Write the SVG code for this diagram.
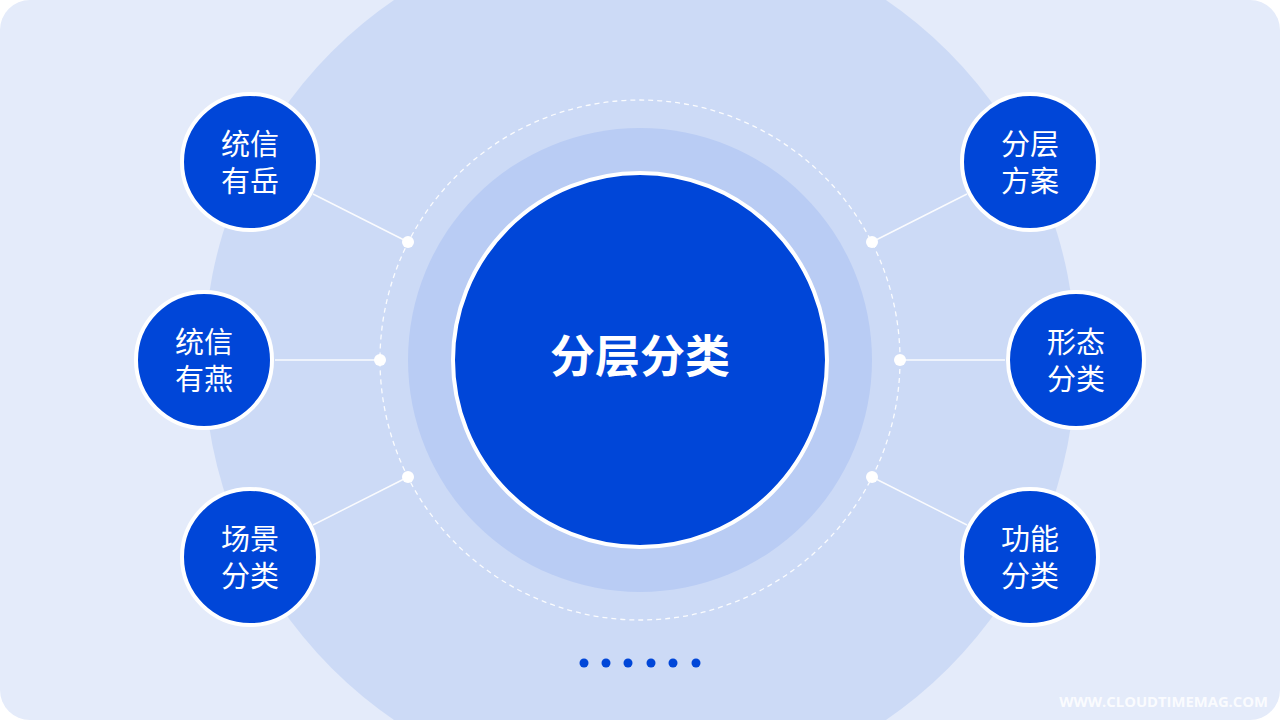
<svg xmlns="http://www.w3.org/2000/svg" width="1280" height="720" viewBox="0 0 1280 720">
<defs>
<style>
.node circle{fill:#0046D8;stroke:#FFFFFF;stroke-width:4}
.nt{font-family:"Liberation Sans","Noto Sans CJK SC",sans-serif;font-size:29px;fill:#FFFFFF;text-anchor:middle}
.link{stroke:#FFFFFF;stroke-width:1.5;opacity:0.9}
.dot{fill:#FFFFFF}
.pg{fill:#0046D8}
</style>
<clipPath id="bg"><rect x="0" y="0" width="1280" height="720" rx="30"/></clipPath>
</defs>
<rect x="0" y="0" width="1280" height="720" fill="#FFFFFF"/>
<g clip-path="url(#bg)">
<rect x="0" y="0" width="1280" height="720" fill="#E4EBFA"/>
<circle cx="640" cy="360" r="436" fill="#CCDAF6"/>
</g>
<circle cx="640" cy="360" r="260" fill="none" stroke="#FFFFFF" stroke-width="1.3" stroke-dasharray="5 4" opacity="0.9"/>
<circle cx="640" cy="360" r="232" fill="#B9CCF4"/>
<g id="center">
<circle cx="640" cy="360" r="187" fill="#0046D8" stroke="#FFFFFF" stroke-width="4"/>
<text x="640" y="373" font-family="'Noto Sans CJK SC','Noto Sans',sans-serif" font-size="45" font-weight="bold" fill="#FFFFFF" text-anchor="middle">分层分类</text>
</g>
<g id="connectors">
<line class="link" x1="408" y1="242" x2="313" y2="194"/>
<line class="link" x1="380" y1="360" x2="275" y2="360"/>
<line class="link" x1="408" y1="477" x2="313" y2="525"/>
<line class="link" x1="872" y1="242" x2="967" y2="194"/>
<line class="link" x1="900" y1="360" x2="1005" y2="360"/>
<line class="link" x1="872" y1="477" x2="967" y2="525"/>
<circle class="dot" cx="408" cy="242" r="6"/>
<circle class="dot" cx="380" cy="360" r="6"/>
<circle class="dot" cx="408" cy="477" r="6"/>
<circle class="dot" cx="872" cy="242" r="6"/>
<circle class="dot" cx="900" cy="360" r="6"/>
<circle class="dot" cx="872" cy="477" r="6"/>
</g>
<g id="node-tl" class="node"><circle cx="250" cy="162" r="68"/><text class="nt"><tspan x="250" y="155">统信</tspan><tspan x="250" y="192">有岳</tspan></text></g>
<g id="node-ml" class="node"><circle cx="204" cy="360" r="68"/><text class="nt"><tspan x="204" y="353">统信</tspan><tspan x="204" y="390">有燕</tspan></text></g>
<g id="node-bl" class="node"><circle cx="250" cy="557" r="68"/><text class="nt"><tspan x="250" y="550">场景</tspan><tspan x="250" y="587">分类</tspan></text></g>
<g id="node-tr" class="node"><circle cx="1030" cy="162" r="68"/><text class="nt"><tspan x="1030" y="155">分层</tspan><tspan x="1030" y="192">方案</tspan></text></g>
<g id="node-mr" class="node"><circle cx="1076" cy="360" r="68"/><text class="nt"><tspan x="1076" y="353">形态</tspan><tspan x="1076" y="390">分类</tspan></text></g>
<g id="node-br" class="node"><circle cx="1030" cy="557" r="68"/><text class="nt"><tspan x="1030" y="550">功能</tspan><tspan x="1030" y="587">分类</tspan></text></g>
<g id="pager">
<circle class="pg" cx="584" cy="663" r="4.5"/>
<circle class="pg" cx="606" cy="663" r="4.5"/>
<circle class="pg" cx="628" cy="663" r="4.5"/>
<circle class="pg" cx="651" cy="663" r="4.5"/>
<circle class="pg" cx="673" cy="663" r="4.5"/>
<circle class="pg" cx="696" cy="663" r="4.5"/>
</g>
<text x="1268" y="707" font-family="'Open Sans','Liberation Sans',sans-serif" font-size="14.8" font-weight="bold" fill="#FFFFFF" fill-opacity="0.85" text-anchor="end">WWW.CLOUDTIMEMAG.COM</text>
</svg>
